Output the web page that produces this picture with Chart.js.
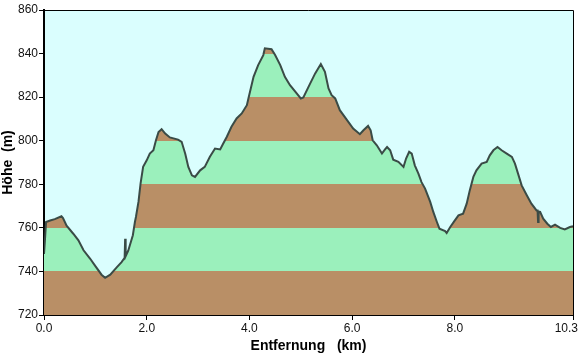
<!DOCTYPE html>
<html lang="de">
<head>
    <meta charset="UTF-8">
    <title>Höhenprofil</title>
    <script src="https://cdn.jsdelivr.net/npm/chart.js"></script>
    <style>
        html, body { margin: 0; padding: 0; background: #ffffff; }
        .chart-container { width: 579px; height: 356px; }
    </style>
</head>
<body>
    <div class="chart-container">
        <canvas id="profile"></canvas>
    </div>
    <script>
        // distance along the route (km) and elevation (m)
        const distKm = [
            0.00, 0.02, 0.04, 0.12, 0.21, 0.34, 0.37, 0.44, 0.57, 0.67, 0.77, 0.90, 0.99, 1.12, 1.19,
            1.29, 1.42, 1.51, 1.57, 1.58, 1.59, 1.64, 1.73, 1.77, 1.79, 1.84, 1.88, 1.93, 2.00, 2.06,
            2.13, 2.18, 2.23, 2.29, 2.36, 2.45, 2.61, 2.68, 2.75, 2.81, 2.88, 2.94, 3.04, 3.13, 3.23,
            3.33, 3.43, 3.49, 3.56, 3.65, 3.75, 3.85, 3.95, 3.98, 4.08, 4.17, 4.27, 4.30, 4.43, 4.50,
            4.60, 4.69, 4.79, 4.92, 5.00, 5.05, 5.15, 5.28, 5.39, 5.47, 5.54, 5.60, 5.67, 5.76, 5.89,
            6.02, 6.15, 6.22, 6.31, 6.36, 6.40, 6.48, 6.58, 6.64, 6.68, 6.74, 6.80, 6.90, 7.00, 7.05,
            7.11, 7.16, 7.22, 7.29, 7.35, 7.42, 7.52, 7.58, 7.65, 7.70, 7.81, 7.84, 7.91, 8.00, 8.07,
            8.16, 8.23, 8.29, 8.36, 8.42, 8.52, 8.62, 8.68, 8.75, 8.83, 8.91, 9.01, 9.11, 9.17, 9.23,
            9.30, 9.40, 9.49, 9.59, 9.61, 9.62, 9.63, 9.66, 9.72, 9.80, 9.87, 9.95, 10.05, 10.14, 10.24,
            10.30
        ];
        const heightM = [
            748.0, 755.0, 762.7, 763.4, 764.0, 765.3, 764.5, 761.0, 757.3, 754.3, 749.7, 745.8, 742.8, 738.5, 737.1,
            738.5, 742.0, 744.3, 746.3, 755.0, 747.0, 749.5, 756.6, 762.7, 765.0, 772.0, 780.3, 788.0, 791.0, 794.1,
            795.6, 800.2, 804.0, 805.3, 803.3, 801.5, 800.5, 799.5, 794.0, 788.0, 784.1, 783.4, 786.4, 788.0, 792.6,
            796.4, 796.0, 798.7, 801.8, 806.4, 810.2, 812.5, 816.3, 819.4, 829.3, 834.7, 839.3, 842.4, 842.0, 839.3,
            834.7, 829.3, 825.5, 821.7, 819.4, 819.9, 824.7, 830.9, 835.2, 831.6, 824.0, 820.9, 819.4, 814.0, 809.8,
            805.6, 803.0, 804.8, 806.8, 804.8, 800.2, 797.9, 794.1, 796.0, 797.1, 795.6, 791.3, 790.3, 788.0, 791.8,
            794.9, 794.1, 788.7, 784.9, 781.0, 778.0, 771.9, 767.3, 762.7, 759.6, 758.5, 757.6, 760.4, 763.4, 765.7,
            766.5, 771.1, 777.2, 783.4, 786.4, 789.5, 790.3, 793.3, 795.6, 797.1, 795.6, 794.1, 792.6, 789.5, 784.9,
            779.5, 775.0, 771.1, 768.0, 768.0, 762.7, 767.5, 767.3, 764.2, 761.9, 760.4, 761.5, 760.0, 759.3, 760.4,
            760.7
        ];

        // elevation bands used for the striped fill
        const bandEdges = [720, 740, 760, 780, 800, 820, 840, 860];
        const bandColors = ['#b98f66', '#9bf0bc', '#b98f66', '#9bf0bc', '#b98f66', '#9bf0bc', '#b98f66'];

        const xTickValues = [0, 2, 4, 6, 8, 10.3];
        const yMin = 720, yMax = 860, yStep = 20;
        const xMax = 10.3;

        const points = distKm.map((d, i) => ({x: d, y: heightM[i]}));
        const font = '"Liberation Sans", Arial, sans-serif';

        function bandFill(context) {
            const chart = context.chart;
            const y = chart.scales.y;
            if (!chart.chartArea || !y) return bandColors[0];
            const g = chart.ctx.createLinearGradient(0, y.getPixelForValue(yMin), 0, y.getPixelForValue(yMax));
            for (let i = 0; i < bandColors.length; i++) {
                const a = (bandEdges[i] - yMin) / (yMax - yMin);
                const b = (bandEdges[i + 1] - yMin) / (yMax - yMin);
                g.addColorStop(a, bandColors[i]);
                g.addColorStop(b, bandColors[i]);
            }
            return g;
        }

        const frame = {
            id: 'frame',
            beforeDraw(chart) {
                const {ctx, chartArea: a} = chart;
                ctx.save();
                ctx.fillStyle = '#dafefe';
                ctx.fillRect(a.left, a.top, a.right - a.left, a.bottom - a.top);
                ctx.restore();
            },
            afterDraw(chart) {
                // thin border on top and right
                const {ctx, chartArea: a} = chart;
                ctx.save();
                ctx.strokeStyle = '#000000';
                ctx.lineWidth = 1;
                ctx.beginPath();
                ctx.moveTo(a.left, a.top + 0.5);
                ctx.lineTo(a.right + 0.5, a.top + 0.5);
                ctx.lineTo(a.right + 0.5, a.bottom);
                ctx.stroke();
                ctx.restore();
            }
        };

        new Chart(document.getElementById('profile'), {
            type: 'line',
            data: {
                datasets: [{
                    data: points,
                    borderColor: '#3a4b46',
                    borderWidth: 2,
                    pointRadius: 0,
                    tension: 0,
                    fill: 'start',
                    backgroundColor: bandFill
                }]
            },
            options: {
                responsive: true,
                maintainAspectRatio: false,
                animation: false,
                layout: {padding: {top: 10, right: 6, left: 0, bottom: 0}},
                plugins: {
                    legend: {display: false},
                    tooltip: {enabled: false}
                },
                scales: {
                    x: {
                        type: 'linear',
                        min: 0,
                        max: xMax,
                        afterBuildTicks: s => { s.ticks = xTickValues.map(v => ({value: v})); },
                        afterFit: s => { s.height = 41; s.paddingRight = 0; s.paddingLeft = 0; },
                        grid: {drawOnChartArea: false, color: '#000000', tickLength: 5, tickWidth: 1},
                        border: {color: '#000000', width: 2},
                        ticks: {
                            color: '#111111',
                            padding: 1,
                            maxRotation: 0,
                            autoSkip: false,
                            font: {family: font, size: 12},
                            // last label sits flush with the right edge
                            callback: v => v === xMax ? v.toFixed(1) + '    ' : Number(v).toFixed(1)
                        },
                        title: {
                            display: true,
                            text: 'Entfernung   (km)',
                            color: '#000000',
                            padding: {top: 0, bottom: 1},
                            font: {family: font, size: 14, weight: 'bold'}
                        }
                    },
                    y: {
                        min: yMin,
                        max: yMax,
                        afterFit: s => { s.width = 44; s.paddingTop = 0; s.paddingBottom = 0; },
                        grid: {drawOnChartArea: false, color: '#000000', tickLength: 5, tickWidth: 1},
                        border: {color: '#000000', width: 2},
                        ticks: {
                            stepSize: yStep,
                            color: '#111111',
                            padding: 1,
                            font: {family: font, size: 12}
                        },
                        title: {
                            display: true,
                            text: 'Höhe  (m)',
                            color: '#000000',
                            padding: 0,
                            font: {family: font, size: 14, weight: 'bold'}
                        }
                    }
                }
            },
            plugins: [frame]
        });
    </script>
</body>
</html>
